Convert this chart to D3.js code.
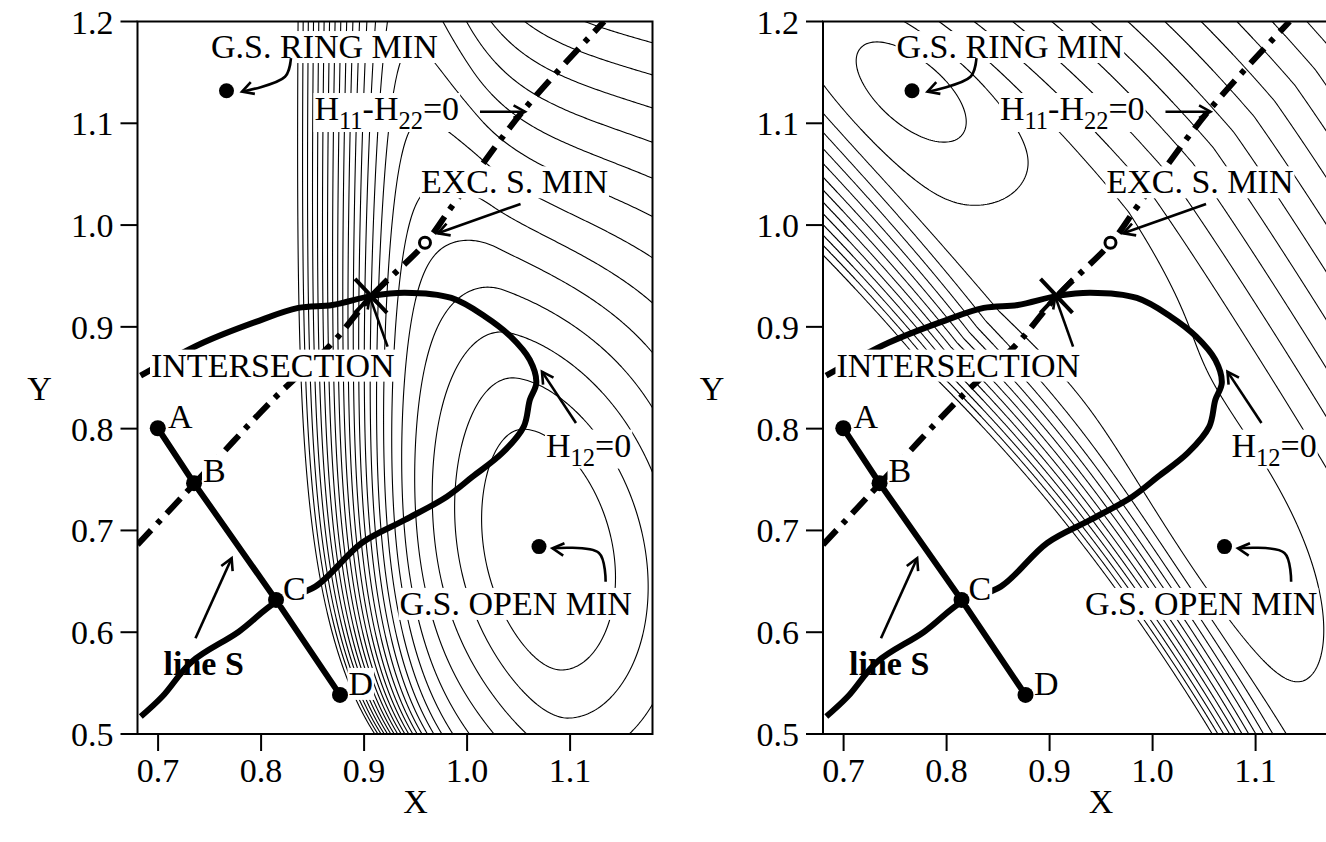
<!DOCTYPE html>
<html>
  <head>
    <script src="https://cdn.jsdelivr.net/npm/d3@7"></script>
    <style>
      body { margin: 0; background: #fff; }
      svg text { font-family: "Liberation Serif", "Times New Roman", serif; fill: #000; }
    </style>
  </head>
  <body>
    <svg width="1326" height="842"></svg>
    <script>
      // axes
      const xDomain = [0.68, 1.18];
      const yDomain = [0.5, 1.2];
      const xTicks = [0.7, 0.8, 0.9, 1.0, 1.1];
      const yTicks = [0.5, 0.6, 0.7, 0.8, 0.9, 1.0, 1.1, 1.2];

      // marked points and lines (identical in both panels)
      const pathPoints = [[0.6997, 0.8004], [0.7349, 0.7464], [0.8145, 0.6317], [0.8766, 0.5384]];
      const pathNames = ["A", "B", "C", "D"];
      const pathNameAt = [[0.7096, 0.8007], [0.7436, 0.7479], [0.8213, 0.6317], [0.8849, 0.5384]];
      const ringMin = [0.7664, 1.132];
      const openMin = [1.0698, 0.6841];
      const excMin = [0.9591, 0.9827];
      const crossing = [0.9067, 0.9304];

      const h12Zero = [
        [0.683, 0.852], [0.7435, 0.8843], [0.7949, 0.9049], [0.8361, 0.9186], [0.8691, 0.9215],
        [0.9075, 0.9304], [0.9395, 0.9336], [0.9847, 0.9284], [1.0177, 0.910], [1.0424, 0.8904],
        [1.0609, 0.8675], [1.0672, 0.845], [1.0609, 0.8282], [1.055, 0.802], [1.0342, 0.7761],
        [1.0053, 0.7528], [0.9803, 0.7332], [0.9395, 0.7103], [0.8977, 0.6877], [0.8526, 0.6448],
        [0.8152, 0.630], [0.7783, 0.6005], [0.7327, 0.571], [0.7041, 0.5368], [0.6832, 0.5171]
      ];
      const h11h22Zero = [
        [0.68, 0.686], [0.7357, 0.7464], [0.811, 0.828], [0.869, 0.884], [0.907, 0.930],
        [0.960, 0.983], [0.985, 1.018], [1.055, 1.113], [1.133, 1.2]
      ];

      // annotations: text (with {sub}scripts), anchor (start, baseline), arrow route
      const labelTexts = ["G.S. RING MIN", "H{11}-H{22}=0", "EXC. S. MIN", "INTERSECTION", "H{12}=0", "G.S. OPEN MIN", "line S"];
      const labelAt = [[0.7514, 1.1641], [0.8518, 1.1032], [0.9552, 1.0312], [0.6931, 0.8511], [1.0766, 0.7725], [0.9344, 0.617], [0.7053, 0.558]];
      const arrowRoutes = [
        [[0.829, 1.1641], [0.8232, 1.1457], [0.7815, 1.131]],
        [[1.0125, 1.1114], [1.0562, 1.1114]],
        [[1.0519, 1.0207], [0.9716, 0.9919]],
        [[0.9228, 0.8806], [0.9055, 0.9297]],
        [[1.1057, 0.8056], [1.0727, 0.856]],
        [[1.1345, 0.6497], [1.128, 0.6779], [1.0829, 0.6825]],
        [[0.7363, 0.5941], [0.7714, 0.6727]]
      ];

      // surface model, left panel
      const leftWell = [1.075, 0.68];
      const leftTilt = 0.15;
      const leftSlopes = [50, 8, 0.06, 34, 0.171];
      const leftRightSide = [32, 0.25];
      const leftWallEdge = [0.92, 0.04, 0.08];
      const leftWallSlope = [165, 135, 0.15];
      const leftLevels = d3.range(1.2, 24, 1);

      // surface model, right panel
      const valleyOrigin = [0.93, 0.85];
      const valleyAxis = [0.61, -0.79];
      const valleyBend = 0.22;
      const valleyEdges = [-0.025, 0.13];
      const lowerWall = [80, 320, 1.2];
      const upperWall = 40;
      const valleyRise = [1.5, 0.34];
      const ringPocket = [1.6, 0.10, 0.05];
      const openPocket = [1.2, 0.16, 0.07];
      const rightLevels = d3.range(-1, 13, 1);

      const svg = d3.select("svg");
      const panelLefts = [137.5, 823];
      const plotTop = 21.5, plotBottom = 734, plotWidth = 515;
      const fontSize = 34;

      const soft = (z, w) => { const q = z / w; return q > 30 ? z : w * Math.log1p(Math.exp(q)); };

      function fieldLeft(x, y) {
        const u = x - leftWell[0] + leftTilt * (y - leftWell[1]);
        const v = y - leftWell[1];
        const eps = leftSlopes[2];
        const gRight = leftSlopes[1] + leftRightSide[0] * Math.exp(-((v / leftRightSide[1]) ** 2));
        const eX = (u < 0 ? leftSlopes[0] : gRight) * (Math.sqrt(u * u + eps * eps) - eps);
        const fade = 1 / (1 + Math.exp(-(x - 0.96) / 0.04));
        const e2 = leftSlopes[4];
        const eY = leftSlopes[3] * (Math.sqrt(v * v + e2 * e2) - e2) * (0.25 + 0.75 * fade);
        const xw = leftWallEdge[0] + leftWallEdge[1] * Math.exp(-(y - 0.5) / leftWallEdge[2]);
        const k = leftWallSlope[0] + leftWallSlope[1] * Math.exp(-(y - 0.5) / leftWallSlope[2]);
        const eW = k * soft(xw - x, 0.015);
        return eX + eY + eW;
      }

      const toValley = (x, y) => {
        const rx = x - valleyOrigin[0], ry = y - valleyOrigin[1];
        const s = valleyAxis[0] * rx + valleyAxis[1] * ry;
        return [s, -valleyAxis[1] * rx + valleyAxis[0] * ry + valleyBend * s * s];
      };
      const [ringS, ringD] = toValley(ringMin[0], ringMin[1]);
      const [openS, openD] = toValley(openMin[0], openMin[1]);

      function fieldRight(x, y) {
        const [s, d] = toValley(x, y);
        const upLeft = Math.max(0, -s - 0.1);
        const lo = soft(valleyEdges[0] + 0.1 * upLeft - d, 0.01);
        const hi = soft(d - (valleyEdges[1] - 0.1 * upLeft), 0.01);
        let e = (lowerWall[0] * lo + lowerWall[1] * lo * lo) * (1 + lowerWall[2] * (s + 0.3)) + upperWall * hi;
        e += valleyRise[0] * (1 - Math.exp(-(((s - ringS) / valleyRise[1]) ** 2)));
        e -= ringPocket[0] * Math.exp(-(((s - ringS) / ringPocket[1]) ** 2) - (((d - ringD) / ringPocket[2]) ** 2));
        e -= openPocket[0] * Math.exp(-(((s - openS) / openPocket[1]) ** 2) - (((d - openD) / openPocket[2]) ** 2));
        return e;
      }

      function drawArrowHead(g, p, q) {
        const a = Math.atan2(q[1] - p[1], q[0] - p[0]);
        const L = 13, phi = 0.5;
        g.append("path")
          .attr("d", `M${q[0] - L * Math.cos(a - phi)},${q[1] - L * Math.sin(a - phi)}L${q[0]},${q[1]}L${q[0] - L * Math.cos(a + phi)},${q[1] - L * Math.sin(a + phi)}`)
          .attr("fill", "none").attr("stroke", "#000").attr("stroke-width", 2.6);
      }

      function addText(g, str, x, y, opts = {}) {
        const t = g.append("text").attr("x", x).attr("y", y)
          .attr("font-size", fontSize)
          .attr("font-weight", opts.bold ? "bold" : null);
        const parts = str.split(/(\{[^}]*\})/).filter(s => s.length);
        let shifted = false;
        parts.forEach(part => {
          if (part.startsWith("{")) {
            t.append("tspan").attr("font-size", fontSize * 0.72).attr("dy", 9).text(part.slice(1, -1));
            shifted = true;
          } else {
            t.append("tspan").attr("dy", shifted ? -9 : 0).text(part);
            shifted = false;
          }
        });
        return t;
      }

      function drawPanel(idx, field, levels) {
        const left = panelLefts[idx];
        const x = d3.scaleLinear().domain(xDomain).range([left, left + plotWidth]);
        const y = d3.scaleLinear().domain(yDomain).range([plotBottom, plotTop]);
        const g = svg.append("g");

        g.append("clipPath").attr("id", "clip" + idx)
          .append("rect").attr("x", left).attr("y", plotTop)
          .attr("width", plotWidth).attr("height", plotBottom - plotTop);

        // contour grid
        const step = 2;
        const gx0 = left - 6, gy0 = plotTop - 6;
        const nx = Math.ceil((plotWidth + 12) / step) + 1;
        const ny = Math.ceil((plotBottom - plotTop + 12) / step) + 1;
        const values = new Float64Array(nx * ny);
        for (let j = 0; j < ny; j++) {
          const yy = y.invert(gy0 + j * step);
          for (let i = 0; i < nx; i++) {
            values[i + j * nx] = field(x.invert(gx0 + i * step), yy);
          }
        }
        const contours = d3.contours().size([nx, ny]).thresholds(levels)(values);
        const geo = d3.geoPath(d3.geoIdentity().scale(step).translate([gx0 - 0.5 * step, gy0 - 0.5 * step]));
        const plot = g.append("g").attr("clip-path", `url(#clip${idx})`);
        plot.append("g").selectAll("path").data(contours).join("path")
          .attr("d", geo).attr("fill", "none").attr("stroke", "#000").attr("stroke-width", 1.1);

        const line = d3.line().x(d => x(d[0])).y(d => y(d[1]));

        // H11-H22 = 0 line
        plot.append("path").attr("d", line.curve(d3.curveCatmullRom)(h11h22Zero))
          .attr("fill", "none").attr("stroke", "#000").attr("stroke-width", 6)
          .attr("stroke-dasharray", "20,9,5,9");
        // H12 = 0 curve
        plot.append("path").attr("d", line.curve(d3.curveCatmullRom)(h12Zero))
          .attr("fill", "none").attr("stroke", "#000").attr("stroke-width", 6)
          .attr("stroke-linejoin", "round");
        // path A-B-C-D
        plot.append("path").attr("d", line.curve(d3.curveLinear)(pathPoints))
          .attr("fill", "none").attr("stroke", "#000").attr("stroke-width", 6);

        // labels with white backing
        const labels = g.append("g");
        const boxed = (str, at, opts) => {
          const lg = labels.append("g");
          const t = addText(lg, str, x(at[0]), y(at[1]), opts);
          if (!opts || !opts.bold) {
            const b = t.node().getBBox();
            lg.insert("rect", "text").attr("x", b.x - 1).attr("y", b.y + 3)
              .attr("width", b.width + 2).attr("height", b.height - 5).attr("fill", "#fff");
          }
        };
        labelTexts.forEach((s, i) => boxed(s, labelAt[i], { bold: s === "line S" }));
        pathNames.forEach((s, i) => boxed(s, pathNameAt[i]));

        // dots and markers
        g.selectAll(".pt").data(pathPoints).join("circle")
          .attr("cx", d => x(d[0])).attr("cy", d => y(d[1])).attr("r", 8).attr("fill", "#000");
        g.selectAll(".mins").data([ringMin, openMin]).join("circle")
          .attr("cx", d => x(d[0])).attr("cy", d => y(d[1])).attr("r", 7.5).attr("fill", "#000");
        g.append("circle").attr("cx", x(excMin[0])).attr("cy", y(excMin[1])).attr("r", 5.5)
          .attr("fill", "#fff").attr("stroke", "#000").attr("stroke-width", 3);
        const cx = x(crossing[0]), cy = y(crossing[1]);
        g.append("path").attr("d", `M${cx - 16},${cy - 17}L${cx + 16},${cy + 17}M${cx - 16},${cy + 17}L${cx + 16},${cy - 17}`)
          .attr("stroke", "#000").attr("stroke-width", 4);

        // arrows
        const arrows = g.append("g");
        arrowRoutes.forEach(r => {
          const pts = r.map(d => [x(d[0]), y(d[1])]);
          arrows.append("path").attr("d", d3.line().curve(d3.curveCatmullRom)(pts))
            .attr("fill", "none").attr("stroke", "#000").attr("stroke-width", 2.6);
          drawArrowHead(arrows, pts[pts.length - 2], pts[pts.length - 1]);
        });

        // frame and axes
        g.append("rect").attr("x", left).attr("y", plotTop).attr("width", plotWidth)
          .attr("height", plotBottom - plotTop).attr("fill", "none").attr("stroke", "#000").attr("stroke-width", 2);
        g.selectAll(".yt").data(yTicks).join("line")
          .attr("x1", left - 17).attr("x2", left).attr("y1", d => y(d)).attr("y2", d => y(d))
          .attr("stroke", "#000").attr("stroke-width", 2);
        g.selectAll(".xt").data(xTicks).join("line")
          .attr("x1", d => x(d)).attr("x2", d => x(d)).attr("y1", plotBottom).attr("y2", plotBottom + 17)
          .attr("stroke", "#000").attr("stroke-width", 2);
        g.selectAll(".yl").data(yTicks).join("text")
          .attr("x", left - 24).attr("y", d => y(d) + 12).attr("text-anchor", "end")
          .attr("font-size", fontSize).text(d => d.toFixed(1));
        g.selectAll(".xl").data(xTicks).join("text")
          .attr("x", d => x(d)).attr("y", plotBottom + 48).attr("text-anchor", "middle")
          .attr("font-size", fontSize).text(d => d.toFixed(1));
        g.append("text").attr("x", x(0.95)).attr("y", plotBottom + 79).attr("text-anchor", "middle")
          .attr("font-size", fontSize).text("X");
        g.append("text").attr("x", left - (idx ? 111 : 98)).attr("y", 400).attr("text-anchor", "middle")
          .attr("font-size", fontSize).text("Y");
      }

      drawPanel(0, fieldLeft, leftLevels);
      drawPanel(1, fieldRight, rightLevels);
    </script>
  </body>
</html>
